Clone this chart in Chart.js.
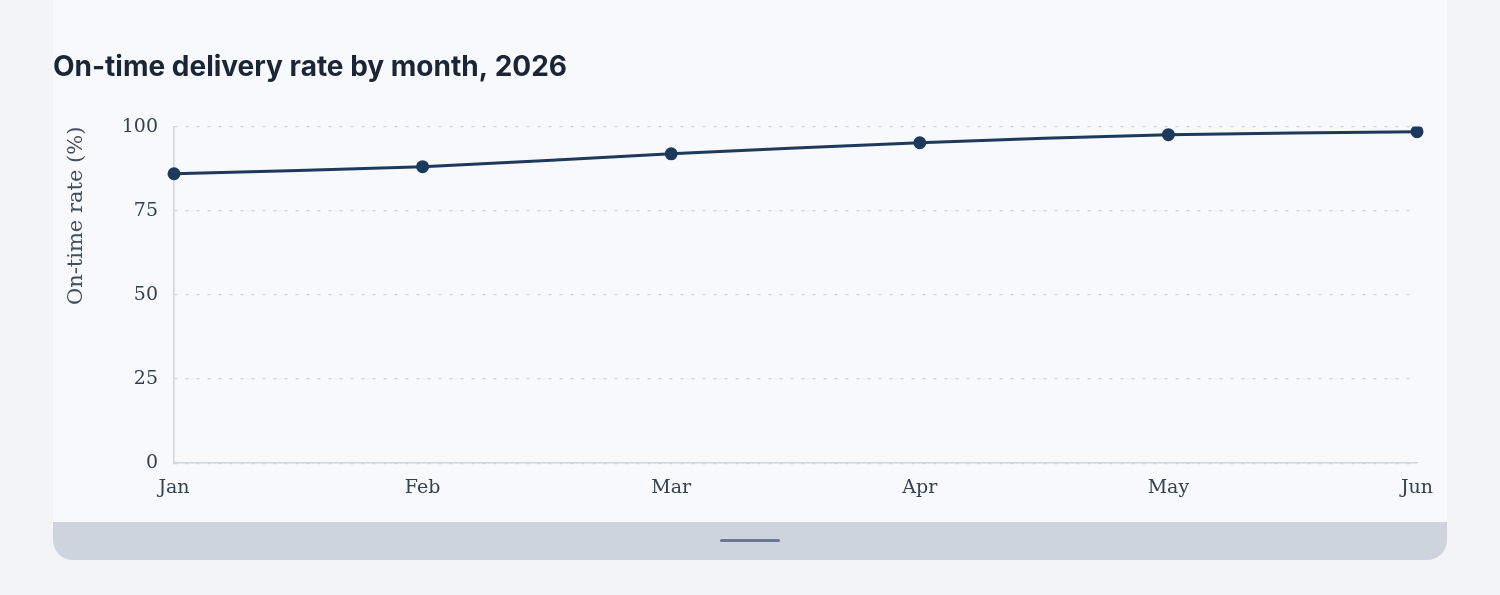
<!DOCTYPE html>
<html><head><meta charset="utf-8">
<script src="https://cdn.jsdelivr.net/npm/chart.js@4/dist/chart.umd.min.js"></script>
<style>
html,body{margin:0;padding:0;background:#f2f4f7;width:1500px;height:595px;overflow:hidden;}
#card{position:absolute;left:53px;top:0;width:1394px;height:560px;background:#f7f9fc;border-radius:0 0 20px 20px;}
#wrap{position:absolute;left:0;top:40px;width:1394px;height:482px;}
#bar{position:absolute;left:0;top:522px;width:1394px;height:38px;background:#cdd4de;border-radius:0 0 20px 20px;}
#handle{position:absolute;left:667px;top:17px;width:60px;height:3px;background:#6b7a90;border-radius:2px;}
</style></head>
<body>
<div id="card">
  <div id="wrap"><canvas id="c"></canvas></div>
  <div id="bar"><div id="handle"></div></div>
</div>
<script>
const months = ["Jan","Feb","Mar","Apr","May","Jun"];
const onTimeRate = [86.0, 88.1, 91.9, 95.2, 97.6, 98.5];
const yTicks = [0,25,50,75,100];
const chartTitle = "On-time delivery rate by month, 2026";
const yAxisTitle = "On-time rate (%)";

const serif = "'DejaVu Serif', serif";
new Chart(document.getElementById('c'), {
  type: 'line',
  data: {
    labels: months,
    datasets: [{
      data: onTimeRate,
      borderColor: '#1d3a5c',
      backgroundColor: '#1d3a5c',
      borderWidth: 3,
      pointRadius: 5,
      pointHoverRadius: 5,
      tension: 0.25,
      fill: false
    }]
  },
  options: {
    responsive: true,
    maintainAspectRatio: false,
    animation: false,
    layout: { padding: { left: 0, right: 30, top: 0, bottom: 10 } },
    plugins: {
      legend: { display: false },
      tooltip: { enabled: false },
      title: {
        display: true,
        text: chartTitle,
        align: 'start',
        color: '#1a2536',
        font: { family: 'Inter', size: 28, weight: '700' },
        padding: { top: 11, bottom: 42 }
      }
    },
    scales: {
      x: {
        offset: false,
        grid: { display: false, drawTicks: false },
        border: { display: true, color: '#d0d5dc', width: 1.5 },
        ticks: { color: '#364150', font: { family: serif, size: 19 }, padding: 13, maxRotation: 0, autoSkip: false }
      },
      y: {
        min: 0, max: 100,
        afterBuildTicks: s => { s.ticks = yTicks.map(v => ({ value: v })); },
        afterFit: s => { s.width = 121; },
        grid: { color: '#cdd3db', lineWidth: 1.3, drawTicks: false },
        border: { display: true, color: '#d0d5dc', width: 1.5, dash: [3, 8] },
        ticks: { color: '#364150', font: { family: serif, size: 19 }, padding: 16 },
        title: {
          display: true, text: yAxisTitle, align: 'end', color: '#434d5c',
          font: { family: serif, size: 21 }, padding: { top: 11, bottom: 0 }
        }
      }
    }
  }
});
</script>
</body></html>
